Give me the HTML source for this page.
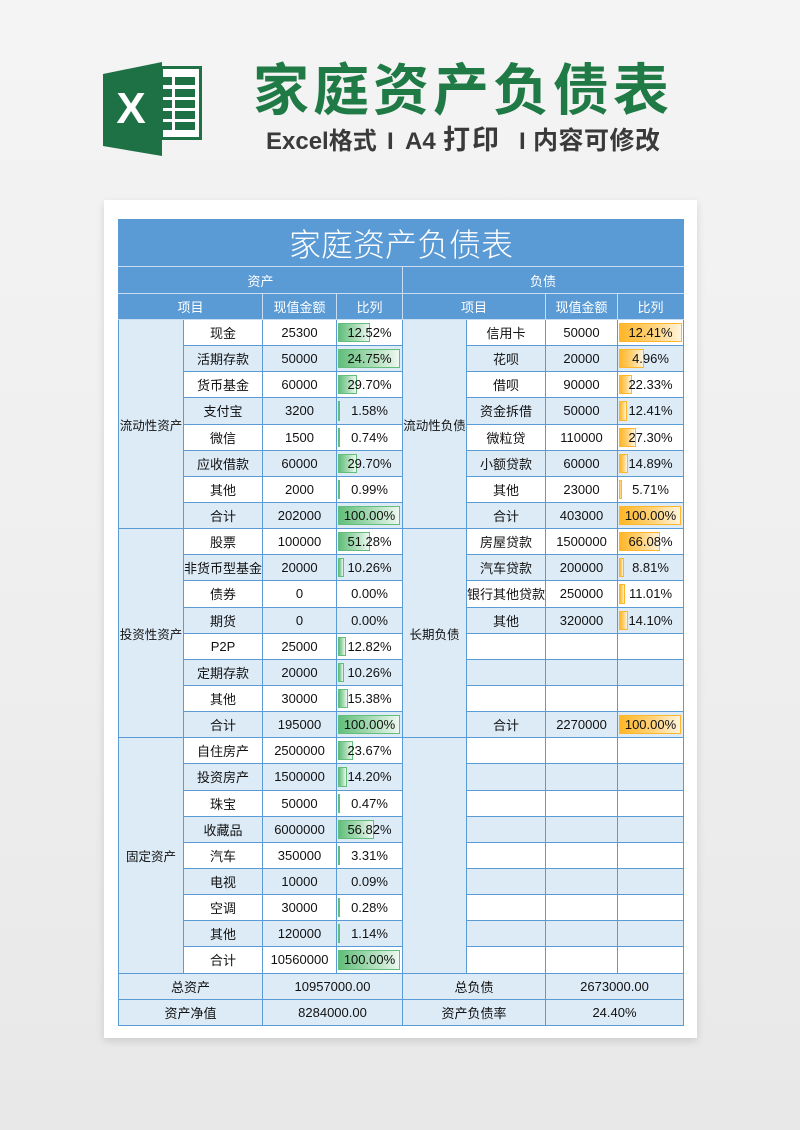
<!DOCTYPE html>
<html><head><meta charset="utf-8">
<style>
html,body{margin:0;padding:0;}
body{width:800px;height:1130px;position:relative;overflow:hidden;background:linear-gradient(180deg,#f4f4f4 0%,#efefef 50%,#e8e8e8 100%);font-family:"Liberation Sans","Noto Sans CJK SC",sans-serif;}
.card{position:absolute;left:104px;top:200px;width:593px;height:838px;background:#fff;box-shadow:0 3px 8px rgba(0,0,0,0.13);}
.t1{position:absolute;left:253px;top:58px;font-size:56px;line-height:58px;font-weight:bold;color:#1f7a45;letter-spacing:4px;white-space:nowrap;font-family:"Noto Sans CJK SC",sans-serif;}
.sub{position:absolute;top:128px;font-size:24px;line-height:28px;font-weight:bold;color:#3a3a3a;white-space:nowrap;font-family:"Liberation Sans","Noto Sans CJK SC",sans-serif;}
table{position:absolute;left:118px;top:219px;border-collapse:collapse;table-layout:fixed;width:565px;}
td{padding:0;text-align:center;font-size:13px;color:#111;border:1px solid #5b9bd5;white-space:nowrap;overflow:visible;}
tr.h td{background:#5b9bd5;color:#fff;border-color:#c9ddf2;}
tr.h td.fl{border-left-color:#5b9bd5;}
tr.h td.fr{border-right-color:#5b9bd5;}
tr.title td{font-size:32px;font-weight:300;height:46px;font-family:"Noto Sans CJK SC",sans-serif;letter-spacing:0px;}
tr.sec{height:27px;}
tr.ch{height:26px;}
tr.d{height:26.15px;}
tr.w td{background:#fff;}
tr.b td{background:#ddebf7;}
tr td.c{background:#ddebf7;font-size:12.5px;}
td.r{position:relative;}
td.r i{position:absolute;left:1px;top:3px;bottom:3px;box-sizing:border-box;}
td.r span{position:relative;}
i.g{background:linear-gradient(90deg,#63be7b 0%,#a9dcb6 55%,#eef8f1 100%);border:1px solid #63be7b;}
i.o{background:linear-gradient(90deg,#ffb628 0%,#ffd37c 55%,#fff4de 100%);border:1px solid #ffb628;}
</style></head>
<body>
<svg width="800" height="200" style="position:absolute;left:0;top:0" xmlns="http://www.w3.org/2000/svg">
  <rect x="160" y="66" width="42" height="74" fill="#1e7145"/>
  <rect x="163" y="69" width="36" height="68" fill="#ffffff"/>
  <g fill="#1e7145">
    <rect x="163" y="77" width="9" height="8"/><rect x="175" y="77" width="20" height="8"/>
    <rect x="163" y="89" width="9" height="8"/><rect x="175" y="89" width="20" height="8"/>
    <rect x="163" y="100" width="9" height="8"/><rect x="175" y="100" width="20" height="8"/>
    <rect x="163" y="111" width="9" height="8"/><rect x="175" y="111" width="20" height="8"/>
    <rect x="163" y="122" width="9" height="8"/><rect x="175" y="122" width="20" height="8"/>
  </g>
  <polygon points="103,74 162,62 162,156 103,146" fill="#1e7145"/>
  <text x="131" y="123" font-family="Liberation Sans, sans-serif" font-weight="bold" font-size="44" fill="#ffffff" text-anchor="middle">X</text>
</svg>
<div class="t1">家庭资产负债表</div>
<div class="sub" style="left:266px">Excel格式</div>
<div class="sub" style="left:387px">I</div>
<div class="sub" style="left:405px">A4</div>
<div class="sub" style="left:443px;font-size:27px;letter-spacing:2px;top:126px">打印</div>
<div class="sub" style="left:519px">I</div>
<div class="sub" style="left:533px;font-size:25px;letter-spacing:0.5px;top:127px">内容可修改</div>

<div class="card"></div>

<table>
<colgroup><col style="width:65px"><col style="width:79px"><col style="width:74px"><col style="width:66px"><col style="width:64px"><col style="width:79px"><col style="width:72px"><col style="width:66px"></colgroup>
<tr class="h title"><td colspan="8" class="fl fr" style="border-top-color:#5b9bd5">家庭资产负债表</td></tr>
<tr class="h sec"><td colspan="4" class="fl">资产</td><td colspan="4" class="fr">负债</td></tr>
<tr class="h ch"><td colspan="2" class="fl">项目</td><td>现值金额</td><td>比列</td><td colspan="2">项目</td><td>现值金额</td><td class="fr">比列</td></tr>

<tr class="d w"><td rowspan="8" class="c">流动性资产</td><td>现金</td><td>25300</td><td class="r"><i class="g" style="width:32px"></i><span>12.52%</span></td><td rowspan="8" class="c">流动性负债</td><td>信用卡</td><td>50000</td><td class="r"><i class="o" style="width:63px"></i><span>12.41%</span></td></tr>
<tr class="d b"><td>活期存款</td><td>50000</td><td class="r"><i class="g" style="width:62px"></i><span>24.75%</span></td><td>花呗</td><td>20000</td><td class="r"><i class="o" style="width:25px"></i><span>4.96%</span></td></tr>
<tr class="d w"><td>货币基金</td><td>60000</td><td class="r"><i class="g" style="width:19px"></i><span>29.70%</span></td><td>借呗</td><td>90000</td><td class="r"><i class="o" style="width:13px"></i><span>22.33%</span></td></tr>
<tr class="d b"><td>支付宝</td><td>3200</td><td class="r"><i class="g" style="width:2px"></i><span>1.58%</span></td><td>资金拆借</td><td>50000</td><td class="r"><i class="o" style="width:8px"></i><span>12.41%</span></td></tr>
<tr class="d w"><td>微信</td><td>1500</td><td class="r"><i class="g" style="width:2px"></i><span>0.74%</span></td><td>微粒贷</td><td>110000</td><td class="r"><i class="o" style="width:17px"></i><span>27.30%</span></td></tr>
<tr class="d b"><td>应收借款</td><td>60000</td><td class="r"><i class="g" style="width:19px"></i><span>29.70%</span></td><td>小额贷款</td><td>60000</td><td class="r"><i class="o" style="width:9px"></i><span>14.89%</span></td></tr>
<tr class="d w"><td>其他</td><td>2000</td><td class="r"><i class="g" style="width:2px"></i><span>0.99%</span></td><td>其他</td><td>23000</td><td class="r"><i class="o" style="width:3px"></i><span>5.71%</span></td></tr>
<tr class="d b"><td>合计</td><td>202000</td><td class="r"><i class="g" style="width:62px"></i><span>100.00%</span></td><td>合计</td><td>403000</td><td class="r"><i class="o" style="width:62px"></i><span>100.00%</span></td></tr>

<tr class="d w"><td rowspan="8" class="c">投资性资产</td><td>股票</td><td>100000</td><td class="r"><i class="g" style="width:32px"></i><span>51.28%</span></td><td rowspan="8" class="c">长期负债</td><td>房屋贷款</td><td>1500000</td><td class="r"><i class="o" style="width:41px"></i><span>66.08%</span></td></tr>
<tr class="d b"><td>非货币型基金</td><td>20000</td><td class="r"><i class="g" style="width:6px"></i><span>10.26%</span></td><td>汽车贷款</td><td>200000</td><td class="r"><i class="o" style="width:5px"></i><span>8.81%</span></td></tr>
<tr class="d w"><td>债券</td><td>0</td><td class="r"><span>0.00%</span></td><td>银行其他贷款</td><td>250000</td><td class="r"><i class="o" style="width:6px"></i><span>11.01%</span></td></tr>
<tr class="d b"><td>期货</td><td>0</td><td class="r"><span>0.00%</span></td><td>其他</td><td>320000</td><td class="r"><i class="o" style="width:9px"></i><span>14.10%</span></td></tr>
<tr class="d w"><td>P2P</td><td>25000</td><td class="r"><i class="g" style="width:8px"></i><span>12.82%</span></td><td></td><td></td><td></td></tr>
<tr class="d b"><td>定期存款</td><td>20000</td><td class="r"><i class="g" style="width:6px"></i><span>10.26%</span></td><td></td><td></td><td></td></tr>
<tr class="d w"><td>其他</td><td>30000</td><td class="r"><i class="g" style="width:10px"></i><span>15.38%</span></td><td></td><td></td><td></td></tr>
<tr class="d b"><td>合计</td><td>195000</td><td class="r"><i class="g" style="width:62px"></i><span>100.00%</span></td><td>合计</td><td>2270000</td><td class="r"><i class="o" style="width:62px"></i><span>100.00%</span></td></tr>

<tr class="d w"><td rowspan="9" class="c">固定资产</td><td>自住房产</td><td>2500000</td><td class="r"><i class="g" style="width:15px"></i><span>23.67%</span></td><td rowspan="9" class="c"></td><td></td><td></td><td></td></tr>
<tr class="d b"><td>投资房产</td><td>1500000</td><td class="r"><i class="g" style="width:9px"></i><span>14.20%</span></td><td></td><td></td><td></td></tr>
<tr class="d w"><td>珠宝</td><td>50000</td><td class="r"><i class="g" style="width:2px"></i><span>0.47%</span></td><td></td><td></td><td></td></tr>
<tr class="d b"><td>收藏品</td><td>6000000</td><td class="r"><i class="g" style="width:36px"></i><span>56.82%</span></td><td></td><td></td><td></td></tr>
<tr class="d w"><td>汽车</td><td>350000</td><td class="r"><i class="g" style="width:2px"></i><span>3.31%</span></td><td></td><td></td><td></td></tr>
<tr class="d b"><td>电视</td><td>10000</td><td class="r"><span>0.09%</span></td><td></td><td></td><td></td></tr>
<tr class="d w"><td>空调</td><td>30000</td><td class="r"><i class="g" style="width:2px"></i><span>0.28%</span></td><td></td><td></td><td></td></tr>
<tr class="d b"><td>其他</td><td>120000</td><td class="r"><i class="g" style="width:2px"></i><span>1.14%</span></td><td></td><td></td><td></td></tr>
<tr class="d w"><td>合计</td><td>10560000</td><td class="r"><i class="g" style="width:62px"></i><span>100.00%</span></td><td></td><td></td><td></td></tr>

<tr class="d b"><td colspan="2">总资产</td><td colspan="2">10957000.00</td><td colspan="2">总负债</td><td colspan="2">2673000.00</td></tr>
<tr class="d b"><td colspan="2">资产净值</td><td colspan="2">8284000.00</td><td colspan="2">资产负债率</td><td colspan="2">24.40%</td></tr>
</table>
</body></html>
